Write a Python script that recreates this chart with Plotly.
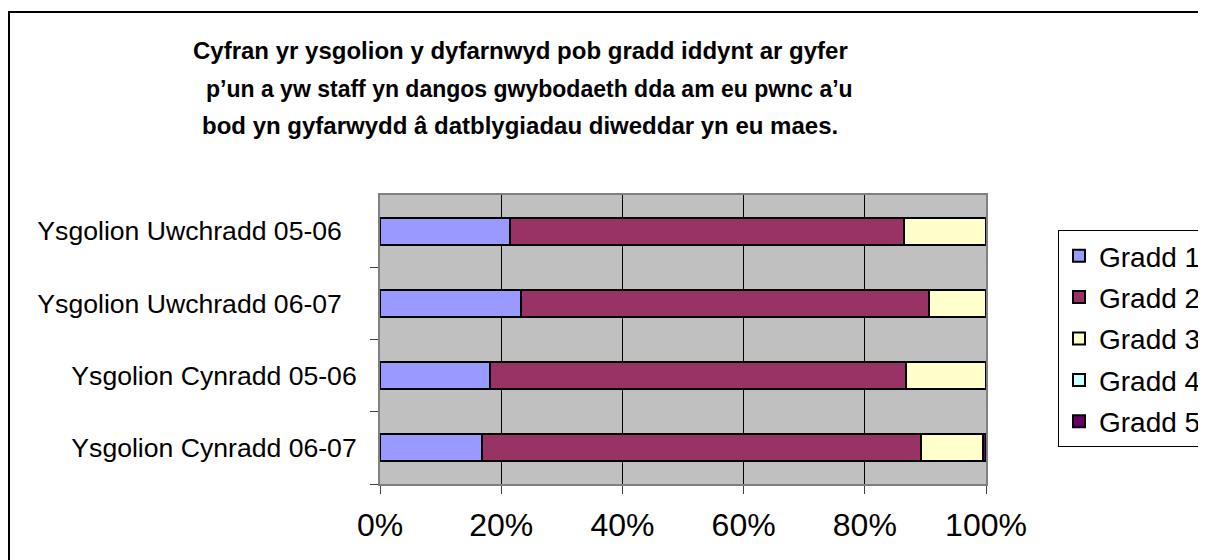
import plotly.graph_objects as go

categories = ["Ysgolion Uwchradd 05-06", "Ysgolion Uwchradd 06-07",
              "Ysgolion Cynradd 05-06", "Ysgolion Cynradd 06-07"]
tick_text = ["Ysgolion Uwchradd 05-06\u00a0\u00a0", "Ysgolion Uwchradd 06-07\u00a0\u00a0",
             "Ysgolion Cynradd 05-06", "Ysgolion Cynradd 06-07"]
series_names = ["Gradd 1", "Gradd 2", "Gradd 3", "Gradd 4", "Gradd 5"]
gradd1 = [21.4, 23.3, 18.2, 16.8]
gradd2 = [65.0, 67.3, 68.6, 72.4]
gradd3 = [13.6, 9.4, 13.2, 10.3]
gradd4 = [0.0, 0.0, 0.0, 0.0]
gradd5 = [0.0, 0.0, 0.0, 0.5]
colors = ["#9999FF", "#993366", "#FFFFCC", "#CCFFFF", "#660066"]
x_ticks = [0, 20, 40, 60, 80, 100]
x_tick_text = ["0%", "20%", "40%", "60%", "80%", "100%"]
title_lines = ["Cyfran yr ysgolion y dyfarnwyd pob gradd iddynt ar gyfer",
               "p\u2019un a yw staff yn dangos gwybodaeth dda am eu pwnc a\u2019u",
               "bod yn gyfarwydd \u00e2 datblygiadau diweddar yn eu maes."]

FONT = "Liberation Sans, Arial, sans-serif"
OFF = 8                      # page body margin
W, H = 1206 - OFF, 560 - OFF
PLOT_L, PLOT_R, PLOT_T, PLOT_B = 380, 986, 195, 484   # page pixels
L = PLOT_L - OFF
T = PLOT_T - OFF
R = W - (PLOT_R - OFF)
B = H - (PLOT_B - OFF)
PW, PH = W - L - R, H - T - B

def px_x(p):
    return (p - OFF - L) / PW

def px_y(p):
    return (H - B - (p - OFF)) / PH

fig = go.Figure()
for name, vals, col in zip(series_names, [gradd1, gradd2, gradd3, gradd4, gradd5], colors):
    fig.add_trace(go.Bar(
        y=categories, x=vals, name=name, orientation="h",
        marker=dict(color=col, line=dict(color="black", width=2)),
        legendgroup=name,
    ))

title_pos = [(520, 51, 24), (529, 89, 23), (520, 126, 24)]
annotations = []
for line, (cx, cy, fs) in zip(title_lines, title_pos):
    annotations.append(dict(
        text="<b>" + line + "</b>", x=px_x(cx), y=px_y(cy), xref="paper", yref="paper",
        xanchor="center", yanchor="middle", showarrow=False,
        font=dict(family=FONT, size=fs, color="black"),
    ))

fig.update_layout(
    width=W, height=H,
    margin=dict(l=L, r=R, t=T, b=B, autoexpand=False),
    barmode="stack",
    bargap=0.625,
    paper_bgcolor="white",
    plot_bgcolor="#C0C0C0",
    font=dict(family=FONT, color="black"),
    showlegend=True,
    legend=dict(
        x=px_x(1058), y=px_y(230), xanchor="left", yanchor="top",
        bgcolor="white", bordercolor="black", borderwidth=1,
        font=dict(family=FONT, size=28, color="black"),
        tracegroupgap=2, traceorder="grouped",
    ),
    annotations=annotations,
    shapes=[dict(type="rect", xref="paper", yref="paper",
                 x0=px_x(9), x1=px_x(1300), y0=px_y(650), y1=px_y(12),
                 line=dict(color="black", width=2), layer="below")],
    xaxis=dict(
        range=[0, 100], tickvals=x_ticks, ticktext=x_tick_text,
        showgrid=True, gridcolor="black", gridwidth=1,
        showline=True, linecolor="#808080", linewidth=2, mirror=True,
        ticks="outside", ticklen=8, tickcolor="#404040", tickwidth=1,
        tickfont=dict(family=FONT, size=32, color="black"),
        ticklabelstandoff=4,
        zeroline=False, fixedrange=True,
    ),
    yaxis=dict(
        categoryorder="array", categoryarray=categories[::-1],
        tickvals=categories, ticktext=tick_text,
        showline=True, linecolor="#808080", linewidth=2, mirror=True,
        ticks="outside", ticklen=8, tickcolor="#404040", tickwidth=1,
        tickson="boundaries", showgrid=False,
        tickfont=dict(family=FONT, size=26.6, color="black"),
        ticklabelstandoff=16,
        fixedrange=True,
    ),
)

fig.write_html("out.html", config={"displayModeBar": False})
